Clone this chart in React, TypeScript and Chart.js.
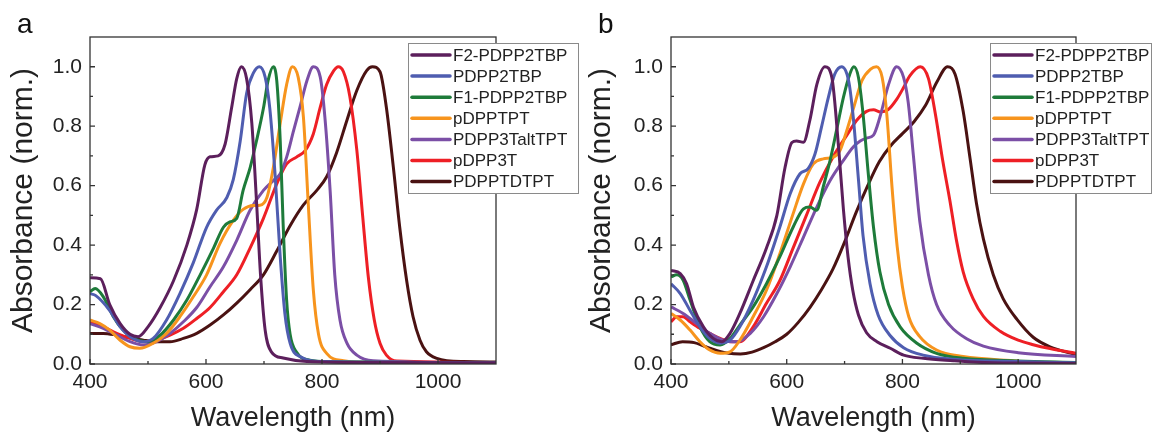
import { useEffect, useRef } from "react";
import { Chart, registerables } from "chart.js";
Chart.register(...registerables);

const SERIES_NAMES = ["F2-PDPP2TBP", "PDPP2TBP", "F1-PDPP2TBP", "pDPPTPT", "PDPP3TaltTPT", "pDPP3T", "PDPPTDTPT"];
const SERIES_COLORS = ["#5c1f5c", "#4f5db0", "#1e7b3a", "#f7941d", "#7b4fa6", "#ee1f25", "#4a1212"];

const X_TICKS = [400, 600, 800, 1000];
const X_MINOR = [500, 700, 900];
const Y_TICKS = [0, 0.2, 0.4, 0.6, 0.8, 1.0];
const Y_MINOR = [0.1, 0.3, 0.5, 0.7, 0.9];

// ---- Panel a ----
const aF2X = [400, 418, 434, 452, 469, 483, 500, 521, 544, 567, 584, 598, 607, 621, 633, 644, 653, 661, 670, 679, 687, 694, 702, 713, 733, 774, 850, 1100];
const aF2Y = [0.29, 0.287, 0.2, 0.136, 0.1, 0.092, 0.125, 0.19, 0.28, 0.4, 0.52, 0.67, 0.697, 0.7, 0.74, 0.86, 0.96, 1.0, 0.96, 0.81, 0.55, 0.3, 0.114, 0.04, 0.02, 0.008, 0.005, 0.004];
const aBlueX = [400, 410, 434, 452, 469, 492, 509, 532, 555, 578, 601, 618, 636, 647, 659, 670, 682, 692, 702, 710, 719, 728, 736, 745, 762, 802, 1100];
const aBlueY = [0.237, 0.23, 0.18, 0.125, 0.092, 0.075, 0.086, 0.148, 0.237, 0.34, 0.46, 0.517, 0.56, 0.62, 0.75, 0.91, 0.98, 1.0, 0.965, 0.86, 0.64, 0.36, 0.17, 0.07, 0.025, 0.008, 0.004];
const aGreenX = [400, 409, 423, 440, 457, 475, 498, 521, 544, 567, 590, 613, 630, 641, 653, 664, 676, 687, 699, 707, 716, 722, 728, 733, 739, 745, 756, 779, 814, 1100];
const aGreenY = [0.243, 0.254, 0.226, 0.16, 0.114, 0.086, 0.075, 0.097, 0.148, 0.215, 0.3, 0.39, 0.46, 0.478, 0.49, 0.584, 0.66, 0.75, 0.86, 0.953, 1.0, 0.953, 0.75, 0.47, 0.215, 0.1, 0.04, 0.013, 0.008, 0.004];
const aOrangeX = [400, 417, 434, 452, 469, 486, 509, 532, 555, 578, 601, 624, 647, 664, 682, 693, 705, 716, 728, 739, 749, 759, 768, 776, 785, 794, 808, 837, 888, 1100];
const aOrangeY = [0.148, 0.136, 0.114, 0.08, 0.058, 0.053, 0.07, 0.103, 0.159, 0.226, 0.3, 0.405, 0.483, 0.52, 0.533, 0.534, 0.56, 0.66, 0.81, 0.94, 1.0, 0.964, 0.83, 0.55, 0.25, 0.1, 0.036, 0.011, 0.005, 0.004];
const aPurpleX = [400, 423, 446, 469, 492, 515, 538, 561, 584, 607, 630, 653, 676, 699, 716, 728, 739, 751, 762, 774, 785, 797, 805, 814, 822, 831, 843, 860, 888, 1100];
const aPurpleY = [0.136, 0.12, 0.097, 0.075, 0.064, 0.075, 0.103, 0.142, 0.19, 0.26, 0.327, 0.416, 0.517, 0.584, 0.617, 0.64, 0.696, 0.785, 0.864, 0.953, 1.0, 0.965, 0.83, 0.584, 0.3, 0.148, 0.07, 0.03, 0.011, 0.004];
const aRedX = [400, 423, 446, 469, 492, 515, 538, 561, 584, 607, 630, 653, 676, 699, 722, 739, 756, 771, 785, 797, 808, 820, 828, 837, 848, 860, 870, 880, 890, 900, 911, 929, 1100];
const aRedY = [0.142, 0.125, 0.103, 0.086, 0.075, 0.08, 0.097, 0.12, 0.153, 0.19, 0.243, 0.3, 0.39, 0.49, 0.606, 0.673, 0.696, 0.718, 0.774, 0.864, 0.94, 0.986, 1.0, 0.983, 0.9, 0.72, 0.5, 0.29, 0.15, 0.07, 0.03, 0.01, 0.005];
const aBrownX = [400, 423, 446, 469, 492, 515, 538, 561, 584, 607, 630, 653, 676, 699, 722, 745, 768, 791, 808, 825, 843, 860, 877, 887, 900, 911, 923, 934, 946, 957, 969, 980, 998, 1044, 1100];
const aBrownY = [0.103, 0.103, 0.097, 0.088, 0.08, 0.075, 0.075, 0.086, 0.103, 0.131, 0.165, 0.205, 0.25, 0.3, 0.38, 0.465, 0.535, 0.584, 0.63, 0.71, 0.82, 0.92, 0.987, 1.0, 0.983, 0.863, 0.662, 0.46, 0.28, 0.159, 0.08, 0.041, 0.019, 0.008, 0.007];

// ---- Panel b ----
const bF2X = [400, 416, 427, 439, 456, 473, 488, 502, 519, 542, 565, 583, 597, 609, 617, 629, 640, 652, 666, 678, 690, 698, 706, 714, 724, 738, 756, 779, 802, 836, 888, 930, 1000, 1100];
const bF2Y = [0.315, 0.304, 0.27, 0.19, 0.125, 0.086, 0.075, 0.103, 0.17, 0.28, 0.39, 0.5, 0.66, 0.745, 0.75, 0.746, 0.82, 0.94, 1.0, 0.964, 0.72, 0.52, 0.36, 0.25, 0.165, 0.105, 0.075, 0.053, 0.03, 0.019, 0.011, 0.006, 0.003, 0.002];
const bBlueX = [400, 416, 433, 450, 467, 485, 502, 519, 542, 565, 588, 606, 623, 637, 649, 660, 672, 683, 695, 707, 715, 724, 732, 744, 758, 779, 802, 836, 888, 1000, 1100];
const bBlueY = [0.27, 0.237, 0.18, 0.125, 0.086, 0.07, 0.08, 0.125, 0.215, 0.327, 0.46, 0.573, 0.64, 0.657, 0.707, 0.796, 0.897, 0.975, 1.0, 0.953, 0.83, 0.62, 0.43, 0.27, 0.165, 0.095, 0.055, 0.03, 0.016, 0.008, 0.004];
const bGreenX = [400, 410, 421, 433, 450, 467, 485, 502, 519, 542, 565, 588, 611, 629, 640, 652, 663, 675, 686, 698, 709, 716, 724, 732, 741, 750, 761, 776, 796, 825, 859, 905, 1000, 1100];
const bGreenY = [0.293, 0.3, 0.282, 0.215, 0.125, 0.075, 0.064, 0.086, 0.131, 0.192, 0.27, 0.36, 0.46, 0.522, 0.528, 0.517, 0.595, 0.685, 0.785, 0.897, 0.975, 1.0, 0.964, 0.84, 0.64, 0.46, 0.31, 0.2, 0.125, 0.07, 0.036, 0.019, 0.01, 0.005];
const bOrangeX = [400, 416, 433, 450, 467, 485, 502, 519, 542, 565, 588, 611, 629, 646, 663, 681, 692, 702, 716, 730, 745, 755, 765, 773, 782, 791, 800, 811, 830, 859, 905, 1000];
const bOrangeY = [0.17, 0.148, 0.114, 0.075, 0.047, 0.036, 0.041, 0.08, 0.159, 0.248, 0.37, 0.505, 0.606, 0.673, 0.69, 0.696, 0.718, 0.774, 0.864, 0.953, 0.992, 1.0, 0.964, 0.84, 0.595, 0.394, 0.26, 0.159, 0.092, 0.047, 0.025, 0.01];
const bPurpleX = [400, 421, 444, 467, 490, 514, 537, 560, 583, 606, 629, 652, 675, 698, 715, 727, 738, 750, 761, 776, 790, 802, 810, 819, 830, 845, 859, 882, 911, 940, 1000, 1100];
const bPurpleY = [0.192, 0.17, 0.136, 0.103, 0.08, 0.075, 0.103, 0.159, 0.237, 0.327, 0.427, 0.528, 0.617, 0.685, 0.73, 0.75, 0.76, 0.77, 0.83, 0.94, 1.0, 0.964, 0.88, 0.7, 0.48, 0.3, 0.2, 0.13, 0.085, 0.06, 0.038, 0.025];
const bRedX = [400, 410, 421, 433, 450, 467, 485, 502, 519, 542, 565, 588, 611, 634, 657, 681, 704, 721, 738, 750, 762, 775, 790, 802, 813, 831, 845, 857, 870, 882, 893, 905, 922, 940, 969, 1000, 1026, 1055, 1100];
const bRedY = [0.142, 0.159, 0.159, 0.142, 0.12, 0.103, 0.086, 0.075, 0.075, 0.125, 0.204, 0.28, 0.39, 0.5, 0.61, 0.7, 0.77, 0.82, 0.85, 0.855, 0.848, 0.855, 0.89, 0.93, 0.97, 1.0, 0.96, 0.84, 0.68, 0.55, 0.42, 0.31, 0.22, 0.16, 0.11, 0.08, 0.065, 0.052, 0.036];
const bBrownX = [400, 420, 440, 460, 480, 500, 520, 540, 560, 580, 600, 620, 640, 660, 680, 700, 720, 740, 760, 780, 800, 820, 840, 860, 878, 891, 905, 917, 928, 940, 957, 974, 998, 1026, 1055, 1100];
const bBrownY = [0.065, 0.075, 0.072, 0.058, 0.045, 0.036, 0.034, 0.04, 0.055, 0.075, 0.1, 0.14, 0.19, 0.25, 0.32, 0.41, 0.51, 0.6, 0.68, 0.735, 0.775, 0.815, 0.87, 0.95, 1.0, 0.975, 0.85, 0.69, 0.54, 0.42, 0.3, 0.22, 0.15, 0.09, 0.058, 0.032];

const PANEL_A_X = [aF2X, aBlueX, aGreenX, aOrangeX, aPurpleX, aRedX, aBrownX];
const PANEL_A_Y = [aF2Y, aBlueY, aGreenY, aOrangeY, aPurpleY, aRedY, aBrownY];
const PANEL_B_X = [bF2X, bBlueX, bGreenX, bOrangeX, bPurpleX, bRedX, bBrownX];
const PANEL_B_Y = [bF2Y, bBlueY, bGreenY, bOrangeY, bPurpleY, bRedY, bBrownY];

const FONT = "'Liberation Sans', Arial, Helvetica, sans-serif";
const TEXT = "#222";

type PanelProps = {
  letter: string;
  xs: number[][];
  ys: number[][];
  width: number;
  left: number;
  yAxisWidth: number;
  rightPad: number;
  legendLeft: number;
  legendRight: number;
  titleOffset: number;
  letterX: number;
};

function Panel(p: PanelProps) {
  const ref = useRef<HTMLCanvasElement | null>(null);
  useEffect(() => {
    if (!ref.current) return;
    const decor = {
      id: "decor",
      afterDatasetsDraw(chart: any) {
        const { ctx, chartArea } = chart;
        const { left, right, top, bottom } = chartArea;
        const x = chart.scales.x;
        const y = chart.scales.y;
        ctx.save();
        ctx.strokeStyle = "#333";
        ctx.lineWidth = 1.3;
        ctx.strokeRect(left, top, right - left, bottom - top);
        ctx.beginPath();
        for (const v of X_TICKS) {
          const px = x.getPixelForValue(v);
          ctx.moveTo(px, bottom);
          ctx.lineTo(px, bottom - 5);
        }
        for (const v of X_MINOR) {
          const px = x.getPixelForValue(v);
          ctx.moveTo(px, bottom);
          ctx.lineTo(px, bottom - 3);
        }
        for (const v of Y_TICKS) {
          const py = y.getPixelForValue(v);
          ctx.moveTo(left, py);
          ctx.lineTo(left + 5, py);
        }
        for (const v of Y_MINOR) {
          const py = y.getPixelForValue(v);
          ctx.moveTo(left, py);
          ctx.lineTo(left + 3, py);
        }
        ctx.stroke();
        ctx.restore();
      },
      afterDraw(chart: any) {
        const ctx = chart.ctx;
        ctx.save();
        const top = 43;
        const h = 150;
        ctx.fillStyle = "#fff";
        ctx.fillRect(p.legendLeft, top, p.legendRight - p.legendLeft, h);
        ctx.strokeStyle = "#8a8a8a";
        ctx.lineWidth = 1;
        ctx.strokeRect(p.legendLeft + 0.5, top + 0.5, p.legendRight - p.legendLeft - 1, h);
        ctx.font = `17px ${FONT}`;
        ctx.textBaseline = "middle";
        ctx.textAlign = "left";
        chart.data.datasets.forEach((ds: any, i: number) => {
          const cy = 55 + i * 21.1;
          ctx.strokeStyle = ds.borderColor;
          ctx.lineWidth = 3.5;
          ctx.lineCap = "round";
          ctx.beginPath();
          ctx.moveTo(p.legendLeft + 4, cy);
          ctx.lineTo(p.legendLeft + 42, cy);
          ctx.stroke();
          ctx.fillStyle = TEXT;
          ctx.fillText(ds.label, p.legendLeft + 45, cy + 1);
        });
        ctx.font = `28px ${FONT}`;
        ctx.textBaseline = "alphabetic";
        ctx.fillStyle = "#111";
        ctx.fillText(p.letter, p.letterX, 33);
        ctx.restore();
      },
    };

    const chart = new Chart(ref.current, {
      type: "line",
      data: {
        datasets: SERIES_NAMES.map((name, i) => ({
          label: name,
          data: p.xs[i].map((xv, j) => ({ x: xv, y: p.ys[i][j] })),
          borderColor: SERIES_COLORS[i],
          backgroundColor: SERIES_COLORS[i],
          borderWidth: 3,
          pointRadius: 0,
          cubicInterpolationMode: "monotone",
          fill: false,
        })),
      },
      options: {
        responsive: false,
        animation: false,
        devicePixelRatio: 1,
        layout: { padding: { top: 37, right: p.rightPad, bottom: 0, left: 0 } },
        plugins: { legend: { display: false }, tooltip: { enabled: false } },
        scales: {
          x: {
            type: "linear",
            min: 400,
            max: 1100,
            grid: { display: false, drawTicks: false },
            border: { display: false },
            ticks: {
              stepSize: 200,
              includeBounds: false,
              padding: 6,
              color: TEXT,
              font: { family: FONT, size: 21 },
              maxRotation: 0,
              callback: (v: any) => String(v),
            },
            title: {
              display: true,
              text: "Wavelength (nm)",
              color: TEXT,
              font: { family: FONT, size: 27 },
              padding: { top: 0, bottom: 1 },
            },
            afterFit: (s: any) => {
              s.height = 72;
            },
          },
          y: {
            type: "linear",
            min: 0,
            max: 1.1,
            grid: { display: false, drawTicks: false },
            border: { display: false },
            ticks: {
              stepSize: 0.2,
              includeBounds: false,
              padding: 8,
              color: TEXT,
              font: { family: FONT, size: 21 },
              callback: (v: any) => (v > 1.05 ? "" : Number(v).toFixed(1)),
            },
            title: {
              display: true,
              text: "Absorbance (norm.)",
              color: TEXT,
              font: { family: FONT, size: 30 },
              padding: { top: p.titleOffset, bottom: 0 },
            },
            afterFit: (s: any) => {
              s.width = p.yAxisWidth;
            },
          },
        },
      },
      plugins: [decor],
    } as any);
    return () => chart.destroy();
  }, []);
  return (
    <div style={{ position: "absolute", left: p.left, top: 0, width: p.width, height: 436 }}>
      <canvas ref={ref} width={p.width} height={436} style={{ display: "block", width: p.width, height: 436 }} />
    </div>
  );
}

export default function App() {
  return (
    <div style={{ position: "fixed", left: 0, top: 0, width: 1153, height: 436, background: "#fff", overflow: "hidden" }}>
      <Panel letter="a" xs={PANEL_A_X} ys={PANEL_A_Y} width={580} left={0} yAxisWidth={90} rightPad={84} legendLeft={408} legendRight={579} titleOffset={6} letterX={17} />
      <Panel letter="b" xs={PANEL_B_X} ys={PANEL_B_Y} width={573} left={580} yAxisWidth={91} rightPad={77} legendLeft={410} legendRight={572} titleOffset={4} letterX={18} />
    </div>
  );
}
